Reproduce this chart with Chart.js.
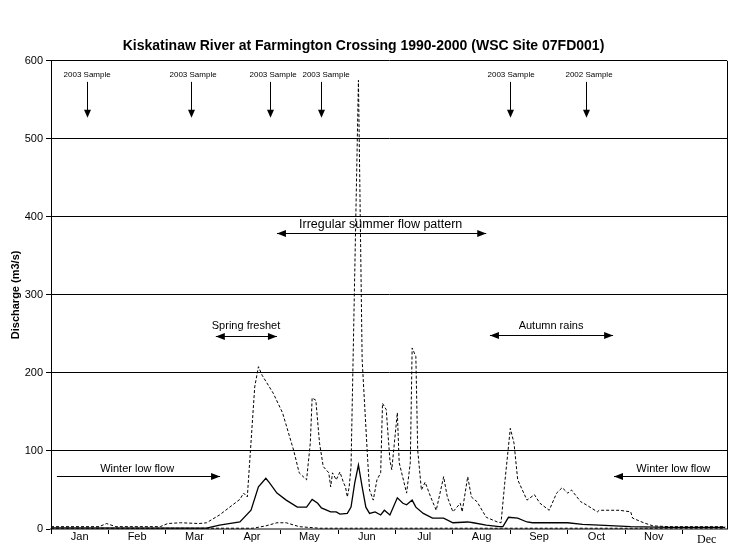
<!DOCTYPE html>
<html><head><meta charset="utf-8">
<script src="https://cdn.jsdelivr.net/npm/chart.js@4"></script>
<style>html,body{margin:0;padding:0;background:#fff}#wrap{width:733px;height:544px;position:relative}</style>
</head><body><div id="wrap"><canvas id="c"></canvas></div>
<script>
const months = ['Jan','Feb','Mar','Apr','May','Jun','Jul','Aug','Sep','Oct','Nov'];
const monthStep = 31;
const yTicks = [0,100,200,300,400,500,600];

const maxDays = [0,26,30,35,59,63,70,80,84,91,102,104,106,110,112,114,120,125,131,134,138,140,141,143,145,147,150,151,152,154,156,158,159,160,161,162,166,168,171,172,174,176,178,179,181,183,184,187,188,192,194,195,197,198,200,202,205,208,212,214,217,221,222,225,227,230,235,241,243,245,248,250,252,257,261,264,269,273,276,279,281,286,289,295,296,307,313,314,320,325,334,364];
const maxQ = [3,3,7,3,3,7,8,7,8,18,38,46,41,182,208,197,174,149,101,72,63,110,168,165,110,80,72,54,72,63,73,59,54,41,54,80,575,217,88,50,37,63,72,161,153,88,76,149,85,46,85,232,221,101,50,60,41,24,67,41,22,33,22,67,41,35,15,9,8,59,129,110,63,37,44,33,24,46,53,46,50,35,31,22,24,24,22,14,8,4,3,3];

const meanDays = [0,80,84,91,102,108,112,116,118,122,127,133,138,141,144,146,151,154,156,160,162,164,166,168,170,172,175,178,180,183,187,190,192,195,197,201,206,212,217,225,228,235,242,244,247,252,257,260,269,279,287,296,313,334,364];
const meanQ = [1.5,1,1,5,9,24,54,65,59,46,37,28,28,38,33,27,22,22,19,20,28,59,82,54,28,20,22,18,24,18,40,33,31,37,28,20,14,14,8,9,8,5,3,3,15,14,9,8,8,8,6,5,3,2,2];

const minDays = [0,100,109,116,122,127,134,145,364];
const minQ = [1,1,1,4,8,8,3,1,1];

const sampleDays = [19.5,75.5,118.5,146,248,289];
const sampleLabelDays = [19.5,76.7,119.9,148.5,248.4,290.5];
const sampleLabels = ['2003 Sample','2003 Sample','2003 Sample','2003 Sample','2003 Sample','2002 Sample'];

const FF = "'Liberation Sans Narrow','Arial Narrow','Liberation Sans',Arial,sans-serif";
Chart.defaults.font.family = FF;
Chart.defaults.color = '#000';

const pts = (d, q) => d.map((v, i) => ({x: v, y: q[i]}));

function arrowHead(ctx, x, y, dir) {
  ctx.beginPath();
  if (dir === 'down') { ctx.moveTo(x, y); ctx.lineTo(x - 3.5, y - 8); ctx.lineTo(x + 3.5, y - 8); }
  if (dir === 'right') { ctx.moveTo(x, y); ctx.lineTo(x - 9, y - 3.5); ctx.lineTo(x - 9, y + 3.5); }
  if (dir === 'left') { ctx.moveTo(x, y); ctx.lineTo(x + 9, y - 3.5); ctx.lineTo(x + 9, y + 3.5); }
  ctx.closePath(); ctx.fill();
}

const spans = [
  {text:'Irregular summer flow pattern', tx:178, ty:390, x0:122, x1:235, ay:379.5, heads:['left','right'], size:12.5},
  {text:'Spring freshet', tx:105.3, ty:260, x0:89, x1:122, ay:247.5, heads:['left','right'], size:11},
  {text:'Autumn rains', tx:270, ty:260, x0:237, x1:303.5, ay:248.5, heads:['left','right'], size:11},
  {text:'Winter low flow', tx:46.5, ty:76.5, x0:3.2, x1:91.3, ay:68, heads:['right'], size:11},
  {text:'Winter low flow', tx:336, ty:76.5, x0:304, x1:365, ay:68, heads:['left'], size:11}
];

const annPlugin = {
  id: 'ann',
  afterDatasetsDraw(chart) {
    const {ctx, scales: {x, y}, chartArea: a} = chart;
    ctx.save();
    ctx.fillStyle = '#000'; ctx.strokeStyle = '#000'; ctx.lineWidth = 1;
    ctx.beginPath(); ctx.moveTo(a.right + 0.5, a.top); ctx.lineTo(a.right + 0.5, a.bottom); ctx.stroke();
    ctx.textAlign = 'center'; ctx.textBaseline = 'middle';
    ctx.font = '8px ' + FF;
    sampleDays.forEach((d, i) => {
      const px = Math.round(x.getPixelForValue(d)) + 0.5;
      ctx.fillText(sampleLabels[i], x.getPixelForValue(sampleLabelDays[i]), y.getPixelForValue(582));
      const y0 = y.getPixelForValue(573), y1 = y.getPixelForValue(527);
      ctx.beginPath(); ctx.moveTo(px, y0); ctx.lineTo(px, y1 - 4); ctx.stroke();
      arrowHead(ctx, px, y1, 'down');
    });
    spans.forEach(s => {
      ctx.font = s.size + 'px ' + FF;
      ctx.fillText(s.text, x.getPixelForValue(s.tx), y.getPixelForValue(s.ty));
      const yy = Math.round(y.getPixelForValue(s.ay)) + 0.5;
      const xa = x.getPixelForValue(s.x0), xb = x.getPixelForValue(s.x1);
      ctx.beginPath(); ctx.moveTo(xa, yy); ctx.lineTo(xb, yy); ctx.stroke();
      s.heads.forEach(h => arrowHead(ctx, h === 'left' ? xa : xb, yy, h));
    });
    ctx.font = '12px "Liberation Serif","Times New Roman",serif';
    ctx.fillText('Dec', x.getPixelForValue(354), a.bottom + 11);
    ctx.restore();
  }
};

new Chart(document.getElementById('c'), {
  type: 'line',
  data: {
    datasets: [
      {label:'Mean', data: pts(meanDays, meanQ), borderColor:'#000', borderWidth:1.3, pointRadius:0, tension:0, order:1},
      {label:'Maximum', data: pts(maxDays, maxQ), borderColor:'#000', borderWidth:1, borderDash:[3,2], pointRadius:0, tension:0, order:2},
      {label:'Minimum', data: pts(minDays, minQ), borderColor:'#000', borderWidth:1, borderDash:[3,2], pointRadius:0, tension:0, order:3}
    ]
  },
  options: {
    responsive: true, maintainAspectRatio: false, animation: false,
    layout: {padding: {right: 6, left: 0, top: 0, bottom: 0}},
    plugins: {
      legend: {display: false}, tooltip: {enabled: false},
      title: {display: true, text: 'Kiskatinaw River at Farmington Crossing 1990-2000 (WSC Site 07FD001)',
        font: {size: 14, weight: 'bold'}, color: '#000', padding: {top: 38, bottom: 6}}
    },
    scales: {
      x: {
        type: 'linear', min: 0, max: 365,
        afterBuildTicks(s) {
          const t = [];
          for (let i = 0; i <= months.length; i++) {
            t.push({value: i * monthStep});
            if (i < months.length) t.push({value: i * monthStep + monthStep / 2});
          }
          s.ticks = t;
        },
        ticks: {autoSkip: false, maxRotation: 0, minRotation: 0, padding: -4, font: {size: 11}, color: '#000',
          callback: (v) => { const k = (v - monthStep / 2) / monthStep; return (Number.isInteger(k) && k >= 0 && k < months.length) ? months[k] : ''; }},
        grid: {drawOnChartArea: false, tickLength: 5,
          color: (c) => (c.tick && (c.tick.value % monthStep) !== 0) ? 'rgba(0,0,0,0)' : '#000'},
        border: {color: '#808080', width: 2},
        afterFit(s) { s.height = 15; }
      },
      y: {
        min: 0, max: 600,
        afterBuildTicks(s) { s.ticks = yTicks.map(v => ({value: v})); },
        ticks: {color: '#000', font: {size: 11}, padding: 3},
        grid: {color: '#000', tickLength: 5, lineWidth: 1},
        border: {color: '#000'},
        title: {display: true, text: 'Discharge (m3/s)', font: {size: 11, weight: 'bold'}, color: '#000', padding: {top: 9, bottom: 0}},
        afterFit(s) { s.width = 51; }
      }
    }
  },
  plugins: [annPlugin]
});
</script></body></html>
